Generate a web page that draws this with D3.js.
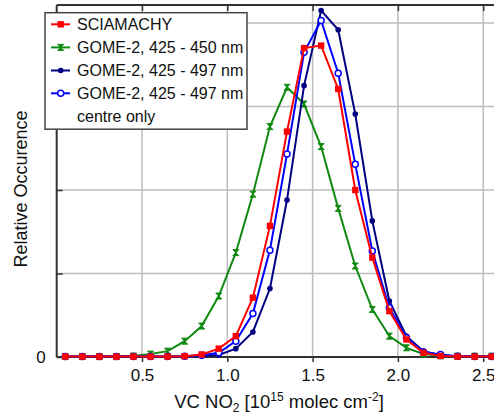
<!DOCTYPE html>
<html>
<head>
<meta charset="utf-8">
<script src="https://cdn.jsdelivr.net/npm/d3@7"></script>
<style>
  body { margin: 0; background: #fff; }
  svg { display: block; font-family: "Liberation Sans", Arial, sans-serif; }
</style>
</head>
<body>
<svg width="494" height="414"></svg>
<script>
// bin centres of the NO2 histogram
const bins = [0.05, 0.15, 0.25, 0.35, 0.45, 0.55, 0.65, 0.75, 0.85, 0.95, 1.05, 1.15, 1.25,
  1.35, 1.45, 1.55, 1.65, 1.75, 1.85, 1.95, 2.05, 2.15, 2.25, 2.35, 2.45, 2.55];

const sciamachy = [0.005, 0.005, 0.005, 0.005, 0.005, 0.005, 0.005, 0.01, 0.03, 0.1, 0.25, 0.71, 1.57,
  2.7, 3.7, 3.73, 3.21, 2.0, 1.19, 0.55, 0.21, 0.05, 0.012, 0.005, 0.005, 0.005];
const gome450 = [0.005, 0.005, 0.005, 0.005, 0.012, 0.035, 0.07, 0.19, 0.37, 0.73, 1.25, 1.95, 2.76,
  3.23, 3.03, 2.52, 1.78, 1.09, 0.57, 0.25, 0.11, 0.036, 0.015, 0.01, 0.01, 0.01];
const gome497 = [0.005, 0.005, 0.005, 0.005, 0.005, 0.005, 0.005, 0.005, 0.008, 0.025, 0.1, 0.3, 0.82,
  1.88, 3.25, 4.15, 3.92, 2.91, 1.63, 0.67, 0.25, 0.07, 0.02, 0.008, 0.005, 0.005];
const gome497c = [0.005, 0.005, 0.005, 0.005, 0.005, 0.005, 0.005, 0.008, 0.02, 0.05, 0.19, 0.52, 1.28,
  2.43, 3.65, 4.03, 3.4, 2.31, 1.27, 0.59, 0.23, 0.06, 0.03, 0.01, 0.005, 0.005];

const xTicks = [0.5, 1.0, 1.5, 2.0, 2.5];
const yTicks = [0, 1, 2, 3, 4];

const series = [
  { name: "SCIAMACHY", values: sciamachy, color: "#ff0000", marker: "square" },
  { name: "GOME-2, 425 - 450 nm", values: gome450, color: "#108a10", marker: "bowtie" },
  { name: "GOME-2, 425 - 497 nm", values: gome497, color: "#000080", marker: "dot" },
  { name: "GOME-2, 425 - 497 nm", values: gome497c, color: "#0000ff", marker: "ring" }
];

const width = 494, height = 414;
const margin = { left: 56.7, top: 5, bottom: 57 };
const font = "Liberation Sans, Arial, sans-serif";

const svg = d3.select("svg");

const x = d3.scaleLinear().domain([0, 2.6]).range([margin.left, margin.left + 2.6 * 170.6]);
const y = d3.scaleLinear().domain([0, 4.216]).range([height - margin.bottom, margin.top]);

// grid
svg.append("g")
  .selectAll("line")
  .data(xTicks)
  .join("line")
  .attr("x1", d => x(d)).attr("x2", d => x(d))
  .attr("y1", y(0)).attr("y2", margin.top)
  .attr("stroke", "#bdbdbd").attr("stroke-width", 1.5);
svg.append("g")
  .selectAll("line")
  .data(yTicks.slice(1))
  .join("line")
  .attr("x1", margin.left).attr("x2", width)
  .attr("y1", d => y(d)).attr("y2", d => y(d))
  .attr("stroke", "#bdbdbd").attr("stroke-width", 1.5);

// axes
const axisColor = "#333";
const xAxisBottom = d3.axisBottom(x).tickValues(xTicks).tickSize(5).tickPadding(7)
  .tickFormat(d3.format(".1f"));
const gx = svg.append("g").attr("transform", `translate(0,${y(0)})`).call(xAxisBottom);
gx.select(".domain").remove();
gx.selectAll("line").attr("stroke", axisColor).attr("stroke-width", 1.5);
gx.selectAll("text").attr("font-size", 17).attr("fill", "#111").attr("font-family", font);

const xAxisTop = d3.axisTop(x).tickValues(xTicks).tickSize(-6).tickFormat("");
const gt = svg.append("g").attr("transform", `translate(0,${margin.top})`).call(xAxisTop);
gt.select(".domain").remove();
gt.selectAll("line").attr("stroke", axisColor).attr("stroke-width", 1.5);

const yAxis = d3.axisLeft(y).tickValues(yTicks).tickSize(-6).tickPadding(11)
  .tickFormat(d => d === 0 ? "0" : "");
const gy = svg.append("g").attr("transform", `translate(${margin.left},0)`).call(yAxis);
gy.select(".domain").remove();
gy.selectAll("line").attr("stroke", axisColor).attr("stroke-width", 1.5);
gy.selectAll("text").attr("font-size", 17).attr("fill", "#111").attr("font-family", font);

// frame
svg.append("line").attr("x1", margin.left).attr("x2", margin.left)
  .attr("y1", margin.top).attr("y2", y(0)).attr("stroke", axisColor).attr("stroke-width", 2);
svg.append("line").attr("x1", margin.left).attr("x2", width)
  .attr("y1", y(0)).attr("y2", y(0)).attr("stroke", axisColor).attr("stroke-width", 2);
svg.append("line").attr("x1", margin.left).attr("x2", width)
  .attr("y1", margin.top).attr("y2", margin.top).attr("stroke", axisColor).attr("stroke-width", 2);

// markers
function drawMarker(sel, kind, color) {
  if (kind === "square") {
    sel.append("rect").attr("x", -3.2).attr("y", -3.2).attr("width", 6.4).attr("height", 6.4)
      .attr("fill", color);
  } else if (kind === "bowtie") {
    sel.append("path").attr("d", "M-3,-3L3,-3L-3,3L3,3Z")
      .attr("fill", color).attr("stroke", color).attr("stroke-width", 1);
  } else if (kind === "dot") {
    sel.append("circle").attr("r", 2.8).attr("fill", color);
  } else {
    sel.append("circle").attr("r", 3).attr("fill", "#fff").attr("stroke", color).attr("stroke-width", 1.5);
  }
}

const line = d3.line().x((d, i) => x(bins[i])).y(d => y(d));

// draw in back-to-front order similar to the reference
const order = [1, 2, 3, 0];
order.forEach(k => {
  const s = series[k];
  svg.append("path")
    .attr("d", line(s.values))
    .attr("fill", "none")
    .attr("stroke", s.color)
    .attr("stroke-width", 2);
  svg.append("g")
    .selectAll("g")
    .data(s.values)
    .join("g")
    .attr("transform", (d, i) => `translate(${x(bins[i])},${y(d)})`)
    .each(function () { drawMarker(d3.select(this), s.marker, s.color); });
});

// legend
const legend = svg.append("g");
legend.append("rect")
  .attr("x", 45).attr("y", 12.7).attr("width", 202).attr("height", 116.5)
  .attr("fill", "#fff").attr("stroke", "#444").attr("stroke-width", 1.5);
const rowY = [24.3, 47.4, 70.5, 93.3];
series.forEach((s, i) => {
  const g = legend.append("g").attr("transform", `translate(0,${rowY[i]})`);
  g.append("line").attr("x1", 51).attr("x2", 70).attr("y1", 0).attr("y2", 0)
    .attr("stroke", s.color).attr("stroke-width", 2);
  const m = g.append("g").attr("transform", "translate(60.7,0)");
  drawMarker(m, s.marker, s.color);
  g.append("text").attr("x", 77).attr("y", 5.8).attr("font-size", 16).attr("fill", "#111")
    .text(s.name);
});
legend.append("text").attr("x", 77).attr("y", 121.8).attr("font-size", 16).attr("fill", "#111")
  .text("centre only");

// axis titles
const xt = svg.append("text")
  .attr("x", 279).attr("y", 408)
  .attr("text-anchor", "middle")
  .attr("font-size", 18.5)
  .attr("fill", "#111");
xt.append("tspan").text("VC NO");
xt.append("tspan").attr("font-size", 12).attr("dy", 4).text("2");
xt.append("tspan").attr("dy", -4).text(" [10");
xt.append("tspan").attr("font-size", 12).attr("dy", -7).text("15");
xt.append("tspan").attr("dy", 7).text(" molec cm");
xt.append("tspan").attr("font-size", 12).attr("dy", -7).text("-2");
xt.append("tspan").attr("dy", 7).text("]");

svg.append("text")
  .attr("transform", `translate(27,189) rotate(-90)`)
  .attr("text-anchor", "middle")
  .attr("font-size", 18)
  .attr("fill", "#111")
  .text("Relative Occurence");
</script>
</body>
</html>
